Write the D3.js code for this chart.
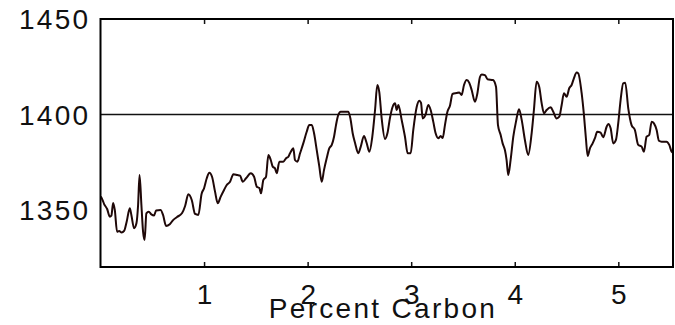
<!DOCTYPE html>
<html><head><meta charset="utf-8">
<script src="https://cdn.jsdelivr.net/npm/d3@7"></script>
<style>
html,body{margin:0;padding:0;background:#fff;}
svg text{font-family:"Liberation Sans",Arial,Helvetica,sans-serif;font-size:28px;fill:#111;letter-spacing:2.3px;}
</style></head>
<body>
<svg id="c" width="675" height="325"></svg>
<script>
const xTicks = [1, 2, 3, 4, 5];
const yTicks = [1350, 1400, 1450];
const xLabel = "Percent Carbon";
const refValue = 1400;
const carbon = [0.003,0.020,0.035,0.064,0.090,0.105,0.122,0.138,0.160,0.180,0.204,0.228,0.252,0.283,0.298,0.324,0.347,0.363,0.377,0.395,
0.411,0.426,0.443,0.466,0.491,0.517,0.537,0.580,0.604,0.633,0.669,0.701,0.739,0.788,0.817,0.848,0.881,0.913,0.945,0.976,
1.000,1.026,1.051,1.077,1.106,1.132,1.161,1.193,1.219,1.251,1.283,1.321,1.347,1.374,1.405,1.451,1.483,1.509,1.534,1.550,
1.572,1.598,1.621,1.644,1.663,1.685,1.702,1.727,1.765,1.792,1.814,1.830,1.847,1.862,1.878,1.901,1.927,1.958,1.991,2.016,
2.040,2.062,2.088,2.113,2.136,2.158,2.184,2.209,2.233,2.255,2.274,2.296,2.319,2.361,2.393,2.414,2.435,2.458,2.489,2.513,
2.544,2.570,2.596,2.624,2.651,2.673,2.692,2.715,2.747,2.771,2.795,2.821,2.844,2.860,2.876,2.908,2.940,2.966,2.995,3.020,
3.053,3.078,3.095,3.111,3.138,3.165,3.188,3.213,3.236,3.262,3.285,3.304,3.326,3.348,3.375,3.399,3.439,3.464,3.487,3.510,
3.536,3.561,3.584,3.616,3.638,3.664,3.681,3.712,3.737,3.790,3.819,3.838,3.864,3.883,3.905,3.921,3.937,3.960,3.986,4.012,
4.041,4.067,4.098,4.130,4.163,4.185,4.211,4.236,4.260,4.282,4.308,4.347,4.372,4.404,4.430,4.453,4.475,4.501,4.526,4.549,
4.571,4.598,4.613,4.646,4.668,4.687,4.704,4.726,4.752,4.774,4.796,4.829,4.854,4.887,4.903,4.926,4.951,4.977,4.999,5.022,
5.047,5.067,5.096,5.128,5.160,5.192,5.225,5.247,5.273,5.298,5.322,5.344,5.370,5.392,5.418,5.466,5.492,5.515,5.528];
const temperature = [1356.9,1355.1,1353.0,1350.4,1346.4,1346.9,1353.5,1349.9,1338.5,1338.9,1338.1,1338.9,1343.6,1350.8,1347.3,1340.3,1342.9,1352.5,1368.2,1352.5,
1338.5,1334.2,1348.1,1349.0,1347.6,1347.0,1349.6,1349.9,1347.3,1341.5,1342.4,1344.6,1346.2,1348.3,1352.0,1358.1,1355.1,1347.8,1347.3,1358.3,
1361.3,1366.5,1369.4,1367.3,1359.5,1353.4,1356.9,1360.4,1363.0,1364.7,1368.6,1368.2,1367.9,1364.7,1366.5,1369.1,1367.3,1362.1,1361.4,1358.6,
1365.6,1367.3,1378.7,1376.1,1372.6,1371.7,1369.1,1375.2,1375.2,1377.0,1377.8,1379.6,1381.3,1382.2,1376.1,1375.2,1379.6,1384.8,1390.9,1394.4,
1394.4,1390.1,1381.3,1372.6,1364.7,1370.8,1377.0,1382.2,1384.0,1388.3,1394.4,1399.7,1401.4,1401.4,1401.4,1397.6,1390.1,1385.0,1379.6,1383.1,
1388.7,1385.0,1380.4,1388.1,1402.3,1415.4,1411.7,1397.9,1387.1,1390.2,1398.1,1404.0,1405.8,1402.3,1404.9,1397.1,1388.3,1379.6,1379.6,1391.8,
1403.9,1407.2,1406.0,1397.9,1399.7,1404.9,1402.3,1396.2,1390.1,1387.5,1388.7,1387.6,1394.4,1401.0,1404.7,1410.7,1411.2,1411.5,1410.2,1415.4,
1418.0,1416.5,1412.8,1406.6,1410.7,1419.6,1420.9,1420.6,1418.4,1418.0,1414.5,1394.4,1389.2,1384.8,1381.3,1376.1,1368.2,1376.1,1388.3,1396.2,
1402.7,1397.1,1386.6,1378.7,1390.1,1402.3,1417.1,1414.5,1405.8,1400.6,1402.3,1403.7,1401.4,1397.9,1398.8,1404.9,1411.1,1409.3,1413.7,1415.4,
1418.9,1421.9,1421.5,1411.1,1399.7,1387.5,1378.2,1382.2,1384.8,1387.5,1390.9,1390.4,1388.0,1393.5,1395.0,1392.7,1384.8,1386.6,1395.3,1407.5,
1416.3,1416.6,1403.2,1394.4,1391.8,1384.0,1383.1,1380.4,1388.3,1389.2,1396.2,1395.3,1391.8,1386.2,1385.7,1385.7,1384.0,1380.4,1379.9];

const svg = d3.select("#c");
const x = d3.scaleLinear().domain([0, 5.528]).range([100.5, 673]);
const y = d3.scaleLinear().domain([1320, 1450]).range([267, 19]);

// reference line
svg.append("line").attr("x1", x(0)).attr("x2", x(5.528))
  .attr("y1", y(refValue)).attr("y2", y(refValue))
  .attr("stroke", "#111").attr("stroke-width", 1.5);

// data line
const pts = carbon.map((c, i) => [c, temperature[i]]);
svg.append("path").datum(pts)
  .attr("fill", "none").attr("stroke", "#1f0808").attr("stroke-width", 2)
  .attr("stroke-linejoin", "round")
  .attr("d", d3.line().curve(d3.curveMonotoneX).x(d => x(d[0])).y(d => y(d[1])));

// axes with inward ticks
const gBottom = svg.append("g").attr("transform", `translate(0,${y(1320)})`)
  .call(d3.axisBottom(x).tickValues(xTicks).tickSizeInner(-5).tickSizeOuter(0).tickFormat(d3.format("d")));
gBottom.select(".domain").remove();
gBottom.selectAll("line").attr("stroke", "#111").attr("stroke-width", 1.5);
gBottom.selectAll("text").attr("font-size", null).attr("font-family", null)
  .attr("y", 37).attr("dy", null).attr("dx", "1.2px").attr("fill", "#111");

const gTop = svg.append("g").attr("transform", `translate(0,${y(1450)})`)
  .call(d3.axisTop(x).tickValues(xTicks).tickSizeInner(-5).tickSizeOuter(0).tickFormat(""));
gTop.select(".domain").remove();
gTop.selectAll("line").attr("stroke", "#111").attr("stroke-width", 1.5);

const gLeft = svg.append("g").attr("transform", `translate(${x(0)},0)`)
  .call(d3.axisLeft(y).tickValues(yTicks).tickSize(0).tickPadding(10).tickFormat(d3.format("d")));
gLeft.select(".domain").remove();
gLeft.selectAll("text").attr("font-size", null).attr("font-family", null)
  .attr("dy", "0.35em").attr("fill", "#111");

// frame
svg.append("rect").attr("x", x(0)).attr("y", y(1450))
  .attr("width", x(5.528) - x(0)).attr("height", y(1320) - y(1450))
  .attr("fill", "none").attr("stroke", "#000").attr("stroke-width", 2);

// x label
svg.append("text").attr("x", 383).attr("y", 318).attr("text-anchor", "middle").text(xLabel);
</script>
</body></html>
